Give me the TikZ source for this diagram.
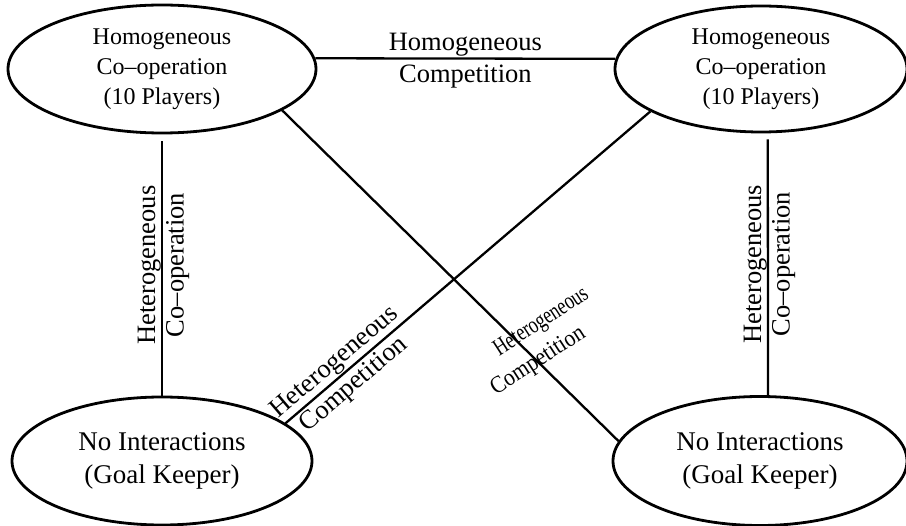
\documentclass[tikz,border=0pt]{standalone}
\usepackage{fontspec}
\setmainfont{Liberation Serif}
\usetikzlibrary{shapes.geometric}

\begin{document}
\begin{tikzpicture}[x=1pt, y=-1pt,
  state/.style={ellipse, draw=black, line width=2.8pt, inner sep=0pt, align=center},
  toptext/.style={font=\fontsize{24}{30}\selectfont},
  bottext/.style={font=\fontsize{27}{33}\selectfont},
  link/.style={line width=2.3pt},
  lbl/.style={font=\fontsize{26.5}{30}\selectfont, inner sep=1pt},
  squeezed/.style={font=\fontsize{24}{26}\selectfont, inner sep=0pt, rotate=33}
]
  \useasboundingbox (0,0) rectangle (906,526);

  \node[state, toptext, minimum width=308pt, minimum height=128pt] (coopL) at (162,69)
    {Homogeneous\\Co–operation\\(10 Players)};
  \node[state, toptext, minimum width=292pt, minimum height=126pt] (coopR) at (761,69)
    {Homogeneous\\Co–operation\\(10 Players)};
  \node[state, bottext, minimum width=300pt, minimum height=128pt] (keepL) at (162,461)
    {No Interactions\\(Goal Keeper)};
  \node[state, bottext, minimum width=294pt, minimum height=129pt] (keepR) at (760,461)
    {No Interactions\\(Goal Keeper)};

  % top edge
  \draw[link] (coopL.4) -- (coopR.176)
    node[midway, lbl, above] {Homogeneous}
    node[midway, lbl, below, inner sep=5pt] {Competition};

  % vertical edges
  \draw[link, shorten <=7pt] (coopL.south) -- (keepL.north)
    node[midway, lbl, rotate=90, anchor=south, inner sep=0pt] {Heterogeneous}
    node[midway, lbl, rotate=90, anchor=north, inner sep=3pt] {Co–operation};
  \draw[link, shorten <=6pt] (coopR.-84.6) -- (keepR.83.8)
    node[midway, lbl, rotate=90, anchor=south, inner sep=0pt] {Heterogeneous}
    node[midway, lbl, rotate=90, anchor=north, inner sep=3pt] {Co–operation};

  % diagonals
  \draw[link] (keepL.17) -- (coopR.201.6)
    node[pos=0.16, lbl, sloped, above] {Heterogeneous}
    node[pos=0.16, lbl, sloped, below, inner sep=3pt] {Competition};
  \draw[link] (coopL.-19.7) -- (keepR.172.3)
    node[pos=0.708, squeezed, xshift=30pt, yshift=7pt] {\scalebox{0.75}[1]{Heterogeneous}}
    node[pos=0.738, squeezed, xshift=3pt, yshift=-10pt] {\scalebox{0.9}[1]{Competition}};
\end{tikzpicture}
\end{document}
